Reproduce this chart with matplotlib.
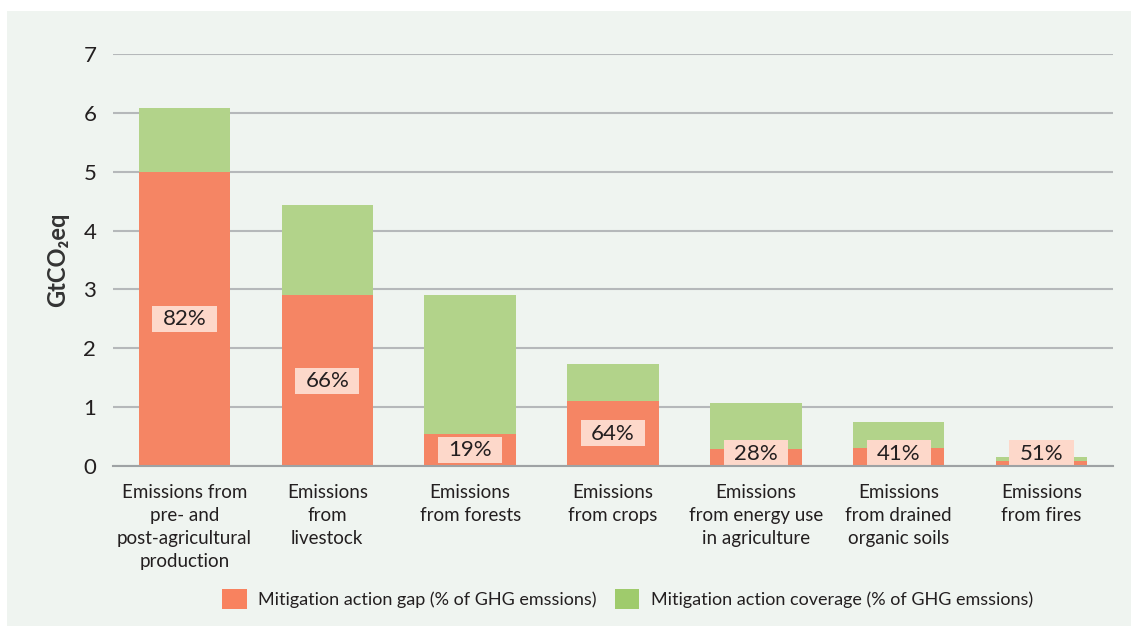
import matplotlib
matplotlib.use("Agg")
import matplotlib.pyplot as plt
from matplotlib.patches import Rectangle, Patch

categories = [
    "Emissions from\npre- and\npost-agricultural\nproduction",
    "Emissions\nfrom\nlivestock",
    "Emissions\nfrom forests",
    "Emissions\nfrom crops",
    "Emissions\nfrom energy use\nin agriculture",
    "Emissions\nfrom drained\norganic soils",
    "Emissions\nfrom fires",
]
gap = [5.0, 2.9, 0.55, 1.11, 0.29, 0.31, 0.08]
total = [6.08, 4.43, 2.9, 1.73, 1.07, 0.75, 0.15]
gap_pct = ["82%", "66%", "19%", "64%", "28%", "41%", "51%"]
coverage = [t - g for t, g in zip(total, gap)]
yticks = [0, 1, 2, 3, 4, 5, 6, 7]

ORANGE = "#F58564"
GREEN = "#B2D38A"
LEG_ORANGE = "#F8825F"
LEG_GREEN = "#9FCB6C"
BG = "#EFF4F0"
TXT = "#231F20"
LABEL_BOX = "#FDD8CA"

plt.rcParams["font.family"] = ["Lato", "DejaVu Sans"]

fig = plt.figure(figsize=(11.31, 6.26), dpi=100)
fig.patch.set_facecolor("white")
fig.patches.append(Rectangle((7 / 1131, 0), 1, 1 - 11 / 626, transform=fig.transFigure,
                             facecolor=BG, edgecolor="none", zorder=-10))

ax = fig.add_axes([113 / 1131, 1 - 466 / 626, 1000 / 1131, 412 / 626])
ax.set_facecolor("none")
x = list(range(len(categories)))
ax.bar(x, gap, width=0.64, color=ORANGE, zorder=3)
ax.bar(x, coverage, bottom=gap, width=0.64, color=GREEN, zorder=3)

box_w, box_h = 0.45, 0.44  # label box size in data units
for xi, g, p in zip(x, gap, gap_pct):
    y = max(g / 2, 0.22)
    ax.add_patch(Rectangle((xi - box_w / 2, y - box_h / 2), box_w, box_h,
                           facecolor=LABEL_BOX, edgecolor="none", zorder=4))
    ax.text(xi, y - 0.01, p, ha="center", va="center", fontsize=16, color=TXT, zorder=5)

ax.set_xlim(-0.5, 6.5)
ax.set_ylim(0, 7)
ax.set_yticks(yticks)
ax.set_yticklabels([str(v) for v in yticks], fontsize=16, color=TXT)
ax.set_xticks(x)
ax.set_xticklabels(categories, fontsize=13.5, color=TXT, linespacing=1.42)
ax.tick_params(axis="both", length=0)
ax.tick_params(axis="y", pad=12)
ax.tick_params(axis="x", pad=13)
ax.grid(axis="y", color="#B5B8BA", linewidth=1.5, zorder=0)
for s in ["top", "right", "left"]:
    ax.spines[s].set_visible(False)
ax.spines["bottom"].set_color("#9EA2A4")
ax.spines["bottom"].set_linewidth(1.5)
ax.spines["bottom"].set_zorder(4)

ax.set_ylabel("GtCO\u2082eq", fontsize=17, fontweight="bold", color="#333333", labelpad=10)

handles = [Patch(facecolor=LEG_ORANGE, edgecolor="none"),
           Patch(facecolor=LEG_GREEN, edgecolor="none")]
labels = ["Mitigation action gap (% of GHG emssions)",
          "Mitigation action coverage (% of GHG emssions)"]
fig.legend(handles, labels, loc="center", bbox_to_anchor=(0.555, 1 - 599 / 626), ncol=2,
           frameon=False, fontsize=13, handlelength=1.35, handleheight=1.35,
           handletextpad=0.65, columnspacing=1.0, labelcolor=TXT)

fig.savefig("out.png", dpi=100)
